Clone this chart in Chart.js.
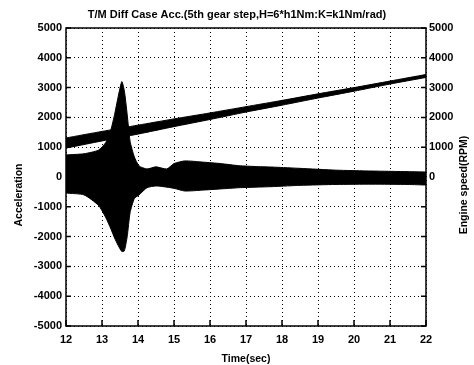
<!DOCTYPE html>
<html>
<head>
<meta charset="utf-8">
<script src="https://cdn.jsdelivr.net/npm/chart.js@4.4.1/dist/chart.umd.min.js"></script>
<style>
  html, body { margin: 0; padding: 0; background: #fff; }
  canvas { display: block; }
</style>
</head>
<body>
<canvas id="chart" width="474" height="365"></canvas>
<script>
// Acceleration envelope (upper / lower edge of the vibration band)
const accTime  = [12, 12.5, 12.9, 13.1, 13.25, 13.35, 13.45, 13.55, 13.62, 13.7, 13.78, 13.9, 14.03, 14.25, 14.5, 14.8, 15.0, 15.3, 15.8, 16.3, 16.8, 17.3, 17.8, 18.5, 19.5, 20.5, 21.5, 22];
const accUpper = [740, 780, 900, 1150, 1600, 2100, 2700, 3200, 2900, 2100, 1200, 670, 370, 270, 340, 270, 450, 540, 500, 450, 380, 350, 330, 290, 230, 200, 180, 170];
const accLower = [-540, -600, -950, -1350, -1750, -2050, -2300, -2500, -2480, -2000, -1200, -720, -600, -360, -300, -340, -380, -470, -440, -400, -360, -340, -320, -280, -250, -240, -250, -270];

// Engine speed band (RPM), right axis
const engTime  = [12, 13, 14, 15, 16, 17, 18, 19, 20, 21, 22];
const engUpper = [1310, 1530, 1740, 1950, 2150, 2360, 2570, 2790, 3000, 3220, 3440];
const engLower = [970, 1210, 1440, 1690, 1930, 2180, 2410, 2650, 2880, 3120, 3340];

const FONT = "'Liberation Sans', Arial, Helvetica, sans-serif";
Chart.defaults.font.family = FONT;
Chart.defaults.font.size = 11;
Chart.defaults.font.weight = 'bold';
Chart.defaults.color = '#000';

function toPoints(xs, ys) {
  return xs.map((x, i) => ({ x: x, y: ys[i] }));
}

function band(label, xs, ys, axis, fill) {
  return {
    label: label,
    data: toPoints(xs, ys),
    yAxisID: axis,
    borderColor: '#000',
    backgroundColor: '#000',
    borderWidth: 1,
    pointRadius: 0,
    tension: 0.2,
    fill: fill
  };
}

// frame, inward tick marks and the two vertical axis titles
const framePlugin = {
  id: 'frame',
  afterDraw(chart) {
    const { ctx, chartArea: a, scales } = chart;
    ctx.save();
    ctx.strokeStyle = '#000';
    ctx.lineWidth = 1.5;
    ctx.strokeRect(a.left, a.top, a.right - a.left, a.bottom - a.top);
    ctx.beginPath();
    scales.x.ticks.forEach(t => {
      const px = scales.x.getPixelForValue(t.value);
      ctx.moveTo(px, a.bottom);
      ctx.lineTo(px, a.bottom - 6);
    });
    scales.y.ticks.forEach(t => {
      const py = scales.y.getPixelForValue(t.value);
      ctx.moveTo(a.left, py);
      ctx.lineTo(a.left + 5, py);
      ctx.moveTo(a.right, py);
      ctx.lineTo(a.right - 5, py);
    });
    ctx.stroke();

    ctx.fillStyle = '#000';
    ctx.font = 'bold 10.5px ' + FONT;
    ctx.textAlign = 'center';
    ctx.textBaseline = 'middle';
    ctx.save();
    ctx.translate(19, 195);
    ctx.rotate(-Math.PI / 2);
    ctx.fillText('Acceleration', 0, 0);
    ctx.restore();
    ctx.save();
    ctx.translate(464, 185);
    ctx.rotate(-Math.PI / 2);
    ctx.fillText('Engine speed(RPM)', 0, 0);
    ctx.restore();
    ctx.restore();
  }
};

const gridOpts = { color: '#000', lineWidth: 1, drawTicks: false };
const dotted = { display: false, dash: [1, 3] };

new Chart(document.getElementById('chart').getContext('2d'), {
  type: 'line',
  data: {
    datasets: [
      band('acc upper', accTime, accUpper, 'y', false),
      band('acc lower', accTime, accLower, 'y', '-1'),
      band('eng upper', engTime, engUpper, 'y1', false),
      band('eng lower', engTime, engLower, 'y1', '-1')
    ]
  },
  options: {
    responsive: false,
    animation: false,
    layout: { padding: 0 },
    plugins: {
      legend: { display: false },
      tooltip: { enabled: false },
      title: {
        display: true,
        text: 'T/M Diff Case Acc.(5th gear step,H=6*h1Nm:K=k1Nm/rad)',
        color: '#000',
        font: { size: 11, weight: 'bold' },
        padding: { top: 8.4, bottom: 6.4 }
      }
    },
    scales: {
      x: {
        type: 'linear',
        min: 12,
        max: 22,
        ticks: { stepSize: 1, padding: 7, maxRotation: 0, callback: v => String(v) },
        grid: gridOpts,
        border: dotted,
        title: { display: true, text: 'Time(sec)', font: { size: 10.5 }, padding: { top: 0, bottom: 0 } },
        afterFit(s) { s.height = 39; }
      },
      y: {
        position: 'left',
        min: -5000,
        max: 5000,
        ticks: { stepSize: 1000, padding: 4, callback: v => String(v) },
        grid: gridOpts,
        border: dotted,
        afterFit(s) { s.width = 66; }
      },
      y1: {
        position: 'right',
        min: -5000,
        max: 5000,
        ticks: { stepSize: 1000, padding: 3, callback: v => (v < 0 ? '' : String(v)) },
        grid: { drawOnChartArea: false, drawTicks: false },
        border: { display: false },
        afterFit(s) { s.width = 48; }
      }
    }
  },
  plugins: [framePlugin]
});
</script>
</body>
</html>
